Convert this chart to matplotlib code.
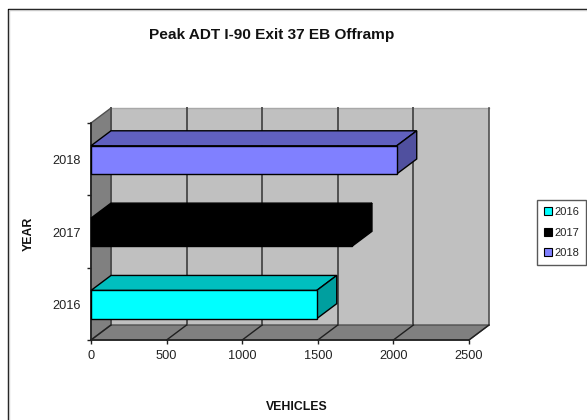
import matplotlib
matplotlib.use("Agg")
import matplotlib.pyplot as plt
from matplotlib.patches import Polygon, Rectangle
from matplotlib.lines import Line2D

title = "Peak ADT I-90 Exit 37 EB Offramp"
x_label = "VEHICLES"
y_label = "YEAR"
years = ["2016", "2017", "2018"]
vehicles = [1493, 1726, 2022]
x_ticks = [0, 500, 1000, 1500, 2000, 2500]
front_colors = ["#00ffff", "#000000", "#8080ff"]
top_colors = ["#00bfbf", "#000000", "#6060bf"]
side_colors = ["#009f9f", "#000000", "#50509f"]

W, H = 587, 420
plt.rcParams["font.family"] = ["Liberation Sans", "DejaVu Sans"]
fig = plt.figure(figsize=(W / 100, H / 100), dpi=100, facecolor="white")

# axes frame = front plane of the pseudo-3D box (pixels)
L, R, T, B = 91, 469, 123, 340
ax = fig.add_axes([L / W, 1 - B / H, (R - L) / W, (B - T) / H])
ax.set_xlim(0, 2500)
ax.set_ylim(0, 3)
ax.patch.set_visible(False)
for s in ax.spines.values():
    s.set_visible(False)

DX = 20 / (R - L) * 2500   # depth in data units
DY = 15 / (B - T) * 3
EDGE = "#000000"
WALL = "#505050"

# back wall, side wall, floor
ax.add_patch(Polygon([(DX, DY), (2500 + DX, DY), (2500 + DX, 3 + DY), (DX, 3 + DY)],
                     fc="#c0c0c0", ec="none", clip_on=False, zorder=1))
ax.plot([DX, 2500 + DX], [3 + DY, 3 + DY], color="#a8a8a8", lw=1, clip_on=False, zorder=1.1)
ax.plot([2500 + DX] * 2, [DY, 3 + DY], color=WALL, lw=1.2, clip_on=False, zorder=1.2)
ax.add_patch(Polygon([(0, 0), (DX, DY), (DX, 3 + DY), (0, 3)],
                     fc="#808080", ec=WALL, lw=1, clip_on=False, zorder=1.3))
ax.add_patch(Polygon([(0, 0), (2500, 0), (2500 + DX, DY), (DX, DY)],
                     fc="#808080", ec=WALL, lw=1, clip_on=False, zorder=1.3))
for v in x_ticks[:-1]:
    ax.plot([v + DX, v + DX], [DY, 3 + DY], color=WALL, lw=1.4, clip_on=False, zorder=1.5)
    ax.plot([v, v + DX], [0, DY], color="#202020", lw=1, clip_on=False, zorder=1.5)
ax.plot([2500, 2500 + DX], [0, DY], color="#202020", lw=1, clip_on=False, zorder=1.5)
ax.plot([0, 2500], [0, 0], color="#202020", lw=1.2, clip_on=False, zorder=1.6)
ax.plot([0, 0], [0, 3], color="#202020", lw=1.2, clip_on=False, zorder=1.6)

# bars
bar_h = 0.39
centers = [i + 0.49 for i in range(len(years))]
bars = ax.barh(centers, vehicles, height=bar_h, color=front_colors, edgecolor=EDGE,
               linewidth=1, zorder=3, clip_on=False)
for c, v, tc, sc in zip(centers, vehicles, top_colors, side_colors):
    t, b = c + bar_h / 2, c - bar_h / 2
    ax.add_patch(Polygon([(0, t), (v, t), (v + DX, t + DY), (DX, t + DY)],
                         fc=tc, ec=EDGE, lw=1, clip_on=False, zorder=2.5))
    ax.add_patch(Polygon([(v, b), (v + DX, b + DY), (v + DX, t + DY), (v, t)],
                         fc=sc, ec=EDGE, lw=1, clip_on=False, zorder=2.5))

# ticks and labels
ax.set_xticks(x_ticks)
ax.set_yticks([0, 1, 2, 3])
ax.set_yticklabels([])
ax.set_yticks(centers, labels=years, minor=True)
ax.tick_params(axis="both", which="major", length=3, width=1, color="#202020", pad=4,
               labelsize=9.2, labelcolor="#222222")
ax.tick_params(axis="y", which="minor", length=0, pad=7.5, labelsize=9.2, labelcolor="#222222")

fig.text(272 / W, 1 - 35 / H, title, ha="center", va="center", fontsize=11.1, fontweight="bold", color="#111111")
fig.text(297 / W, 1 - 407 / H, x_label, ha="center", va="center", fontsize=8.8, fontweight="bold", color="#111111")
fig.text(29 / W, 1 - 233.5 / H, y_label, ha="center", va="center", rotation=90, fontsize=8.8, fontweight="bold", color="#111111")

# legend
handles = [Rectangle((0, 0), 1, 1, fc=c, ec="black", lw=0.8) for c in front_colors]
leg = fig.legend(handles, years, loc="center", bbox_to_anchor=(561.8 / W, 1 - 232.5 / H),
                 frameon=True, fancybox=False, edgecolor="#303030", facecolor="white",
                 fontsize=8, handlelength=0.7, handleheight=0.7, handletextpad=0.25,
                 labelspacing=0.95, borderpad=0.62, borderaxespad=0, labelcolor="#222222")
leg.get_frame().set_linewidth(1)

# outer chart border (top and left, with the faint inner line)
fig.add_artist(Line2D([7.5 / W, 7.5 / W, 1], [0, 1 - 8.5 / H, 1 - 8.5 / H], color="black", lw=1))
fig.add_artist(Line2D([8.5 / W, 8.5 / W, 1], [0, 1 - 9.5 / H, 1 - 9.5 / H], color="#c8c8c8", lw=1))

fig.savefig("out.png", dpi=100, facecolor="white")
